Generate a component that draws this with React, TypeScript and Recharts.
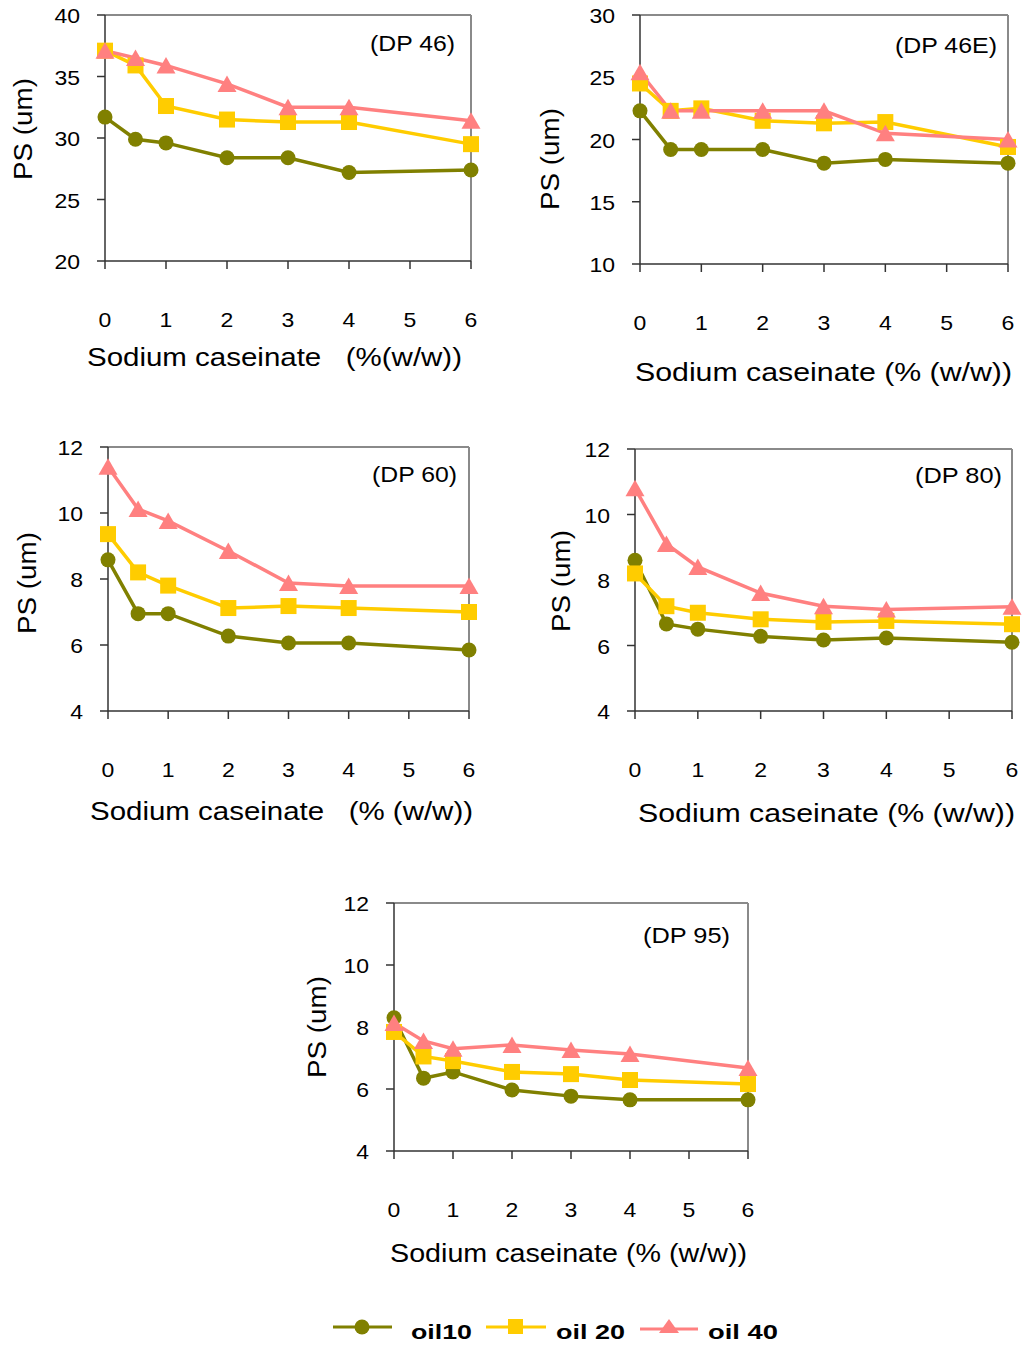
import React from 'react';
import { LineChart, Line, XAxis, YAxis, ReferenceLine } from 'recharts';

const FONT = '"Liberation Sans", Arial, Helvetica, sans-serif';
const C10 = '#808000';
const C20 = '#FFCC00';
const C40 = '#FF8080';

// Sodium caseinate concentration (% w/w)
const caseinate = [0, 0.5, 1, 2, 3, 4, 6];
const xTicks = [0, 1, 2, 3, 4, 5, 6];

// DP 46
const dp46_oil10 = [31.7, 29.9, 29.6, 28.4, 28.4, 27.2, 27.4];
const dp46_oil20 = [37.1, 35.9, 32.6, 31.5, 31.3, 31.3, 29.5];
const dp46_oil40 = [37.1, 36.5, 35.9, 34.4, 32.5, 32.5, 31.4];
const dp46_yTicks = [20, 25, 30, 35, 40];

// DP 46E
const dp46e_oil10 = [22.3, 19.2, 19.2, 19.2, 18.1, 18.4, 18.1];
const dp46e_oil20 = [24.5, 22.3, 22.5, 21.5, 21.3, 21.4, 19.4];
const dp46e_oil40 = [25.4, 22.3, 22.3, 22.3, 22.3, 20.5, 20.0];
const dp46e_yTicks = [10, 15, 20, 25, 30];

// DP 60
const dp60_oil10 = [8.58, 6.95, 6.95, 6.27, 6.06, 6.06, 5.85];
const dp60_oil20 = [9.36, 8.2, 7.8, 7.12, 7.18, 7.12, 7.0];
const dp60_oil40 = [11.4, 10.12, 9.76, 8.85, 7.88, 7.79, 7.79];

// DP 80
const dp80_oil10 = [8.6, 6.66, 6.5, 6.28, 6.17, 6.23, 6.1];
const dp80_oil20 = [8.2, 7.2, 7.0, 6.8, 6.72, 6.75, 6.65];
const dp80_oil40 = [10.8, 9.1, 8.4, 7.6, 7.2, 7.1, 7.18];

// DP 95
const dp95_oil10 = [8.3, 6.35, 6.55, 5.97, 5.77, 5.65, 5.65];
const dp95_oil20 = [7.84, 7.05, 6.9, 6.55, 6.48, 6.29, 6.16];
const dp95_oil40 = [8.13, 7.55, 7.3, 7.42, 7.26, 7.13, 6.68];

const smallYTicks = [4, 6, 8, 10, 12];

const seriesNames = ['oil10', 'oil 20', 'oil 40'];

const AXIS = '#333333';
const BORDER = '#8a8a8a';

const XTick = (p: any) => (
  <text
    transform={`translate(${p.x},${p.y}) scale(1.15,1)`}
    textAnchor="middle"
    dy="0.71em"
    fontSize={20}
    fontFamily={FONT}
    fill="#000"
  >
    {p.payload.value}
  </text>
);

const YTick = (p: any) => (
  <text
    transform={`translate(${p.x},${p.y + 1}) scale(1.15,1)`}
    textAnchor="end"
    dy="0.36em"
    fontSize={20}
    fontFamily={FONT}
    fill="#000"
  >
    {p.payload.value}
  </text>
);

const circleDot = (p: any) => {
  if (p.cx == null || p.cy == null) return <g key={`c${p.index}`} />;
  return <circle key={`c${p.index}`} cx={p.cx} cy={p.cy} r={7.5} fill={C10} />;
};
const squareDot = (p: any) => {
  if (p.cx == null || p.cy == null) return <g key={`s${p.index}`} />;
  return <rect key={`s${p.index}`} x={p.cx - 8} y={p.cy - 8} width={16} height={16} fill={C20} />;
};
const triDot = (p: any) => {
  if (p.cx == null || p.cy == null) return <g key={`t${p.index}`} />;
  const { cx, cy } = p;
  return (
    <polygon
      key={`t${p.index}`}
      points={`${cx},${cy - 8.5} ${cx - 9.5},${cy + 8} ${cx + 9.5},${cy + 8}`}
      fill={C40}
    />
  );
};

type PanelProps = {
  x0: number; x1: number; y0: number; y1: number;
  domain: [number, number]; yTicks: number[];
  oil10: number[]; oil20: number[]; oil40: number[];
};

function Panel({ x0, x1, y0, y1, domain, yTicks, oil10, oil20, oil40 }: PanelProps) {
  const data = caseinate.map((x, i) => ({ x, oil10: oil10[i], oil20: oil20[i], oil40: oil40[i] }));
  const W = x1 - x0 + 130;
  const H = y1 - y0 + 20 + 90;
  return (
    <div style={{ position: 'absolute', left: x0 - 100, top: y0 - 20 }}>
      <LineChart width={W} height={H} data={data} margin={{ top: 20, right: 30, left: 0, bottom: 0 }}>
        <XAxis
          type="number"
          dataKey="x"
          domain={[0, 6]}
          ticks={xTicks}
          interval={0}
          height={90}
          tickSize={8}
          tickMargin={44}
          axisLine={{ stroke: AXIS, strokeWidth: 1.5 }}
          tickLine={{ stroke: AXIS, strokeWidth: 1.5 }}
          tick={(p: any) => <XTick {...p} />}
        />
        <YAxis
          type="number"
          domain={domain}
          ticks={yTicks}
          interval={0}
          width={100}
          tickSize={8}
          tickMargin={17}
          axisLine={{ stroke: AXIS, strokeWidth: 1.5 }}
          tickLine={{ stroke: AXIS, strokeWidth: 1.5 }}
          tick={(p: any) => <YTick {...p} />}
        />
        <ReferenceLine y={domain[1]} stroke={BORDER} strokeWidth={2} />
        <ReferenceLine x={6} stroke={BORDER} strokeWidth={2} />
        <Line type="linear" dataKey="oil10" name={seriesNames[0]} stroke={C10} strokeWidth={3.5} dot={circleDot} activeDot={false} isAnimationActive={false} />
        <Line type="linear" dataKey="oil20" name={seriesNames[1]} stroke={C20} strokeWidth={3.5} dot={squareDot} activeDot={false} isAnimationActive={false} />
        <Line type="linear" dataKey="oil40" name={seriesNames[2]} stroke={C40} strokeWidth={3.5} dot={triDot} activeDot={false} isAnimationActive={false} />
      </LineChart>
    </div>
  );
}

const xTitles = [
  { x: 87, w: 375, cy: 359, t: 'Sodium caseinate   (%(w/w))' },
  { x: 635, w: 377, cy: 374, t: 'Sodium caseinate (% (w/w))' },
  { x: 90, w: 383, cy: 813, t: 'Sodium caseinate   (% (w/w))' },
  { x: 638, w: 377, cy: 815, t: 'Sodium caseinate (% (w/w))' },
  { x: 390, w: 357, cy: 1255, t: 'Sodium caseinate (% (w/w))' },
];
const yTitles = [
  { cx: 25, cy: 129 },
  { cx: 552, cy: 159 },
  { cx: 29, cy: 583 },
  { cx: 563, cy: 581 },
  { cx: 319, cy: 1027 },
];
const dpLabels = [
  { x: 370, w: 85, cy: 45, t: '(DP 46)' },
  { x: 895, w: 102, cy: 47, t: '(DP 46E)' },
  { x: 372, w: 85, cy: 476, t: '(DP 60)' },
  { x: 915, w: 87, cy: 477, t: '(DP 80)' },
  { x: 643, w: 87, cy: 937, t: '(DP 95)' },
];

function Overlay() {
  return (
    <svg
      width={1025}
      height={1345}
      style={{ position: 'absolute', left: 0, top: 0, pointerEvents: 'none' }}
      fontFamily={FONT}
    >
      {xTitles.map((d, i) => (
        <text key={`xt${i}`} x={d.x} y={d.cy + 7} fontSize={26} fill="#000" textLength={d.w} lengthAdjust="spacingAndGlyphs" style={{ whiteSpace: 'pre' }}>
          {d.t}
        </text>
      ))}
      {yTitles.map((d, i) => (
        <text key={`yt${i}`} transform={`translate(${d.cx + 7},${d.cy}) rotate(-90)`} textAnchor="middle" fontSize={26} fill="#000" textLength={102} lengthAdjust="spacingAndGlyphs">
          PS (um)
        </text>
      ))}
      {dpLabels.map((d, i) => (
        <text key={`dp${i}`} x={d.x} y={d.cy + 6} fontSize={22} fill="#000" textLength={d.w} lengthAdjust="spacingAndGlyphs">
          {d.t}
        </text>
      ))}
      {/* legend */}
      <g>
        <line x1={333} y1={1327} x2={392} y2={1327} stroke={C10} strokeWidth={3} />
        <circle cx={362} cy={1327} r={7.5} fill={C10} />
        <text x={411} y={1339} fontSize={21} fontWeight="bold" fill="#000" textLength={61} lengthAdjust="spacingAndGlyphs">{seriesNames[0]}</text>
        <line x1={486} y1={1327} x2={546} y2={1327} stroke={C20} strokeWidth={3} />
        <rect x={508} y={1319} width={15} height={15} fill={C20} />
        <text x={556} y={1339} fontSize={21} fontWeight="bold" fill="#000" textLength={69} lengthAdjust="spacingAndGlyphs" style={{ whiteSpace: 'pre' }}>{seriesNames[1]}</text>
        <line x1={640} y1={1329} x2={698} y2={1329} stroke={C40} strokeWidth={3} />
        <polygon points="669,1319 659,1333 679,1333" fill={C40} />
        <text x={708} y={1339} fontSize={21} fontWeight="bold" fill="#000" textLength={70} lengthAdjust="spacingAndGlyphs" style={{ whiteSpace: 'pre' }}>{seriesNames[2]}</text>
      </g>
    </svg>
  );
}

export default function App() {
  return (
    <div style={{ position: 'absolute', left: 0, top: 0, width: 1025, height: 1345, background: '#fff', overflow: 'hidden' }}>
      <Panel x0={105} x1={471} y0={15} y1={261} domain={[20, 40]} yTicks={dp46_yTicks} oil10={dp46_oil10} oil20={dp46_oil20} oil40={dp46_oil40} />
      <Panel x0={640} x1={1008} y0={15} y1={264} domain={[10, 30]} yTicks={dp46e_yTicks} oil10={dp46e_oil10} oil20={dp46e_oil20} oil40={dp46e_oil40} />
      <Panel x0={108} x1={469} y0={447} y1={711} domain={[4, 12]} yTicks={smallYTicks} oil10={dp60_oil10} oil20={dp60_oil20} oil40={dp60_oil40} />
      <Panel x0={635} x1={1012} y0={449} y1={711} domain={[4, 12]} yTicks={smallYTicks} oil10={dp80_oil10} oil20={dp80_oil20} oil40={dp80_oil40} />
      <Panel x0={394} x1={748} y0={903} y1={1151} domain={[4, 12]} yTicks={smallYTicks} oil10={dp95_oil10} oil20={dp95_oil20} oil40={dp95_oil40} />
      <Overlay />
    </div>
  );
}
